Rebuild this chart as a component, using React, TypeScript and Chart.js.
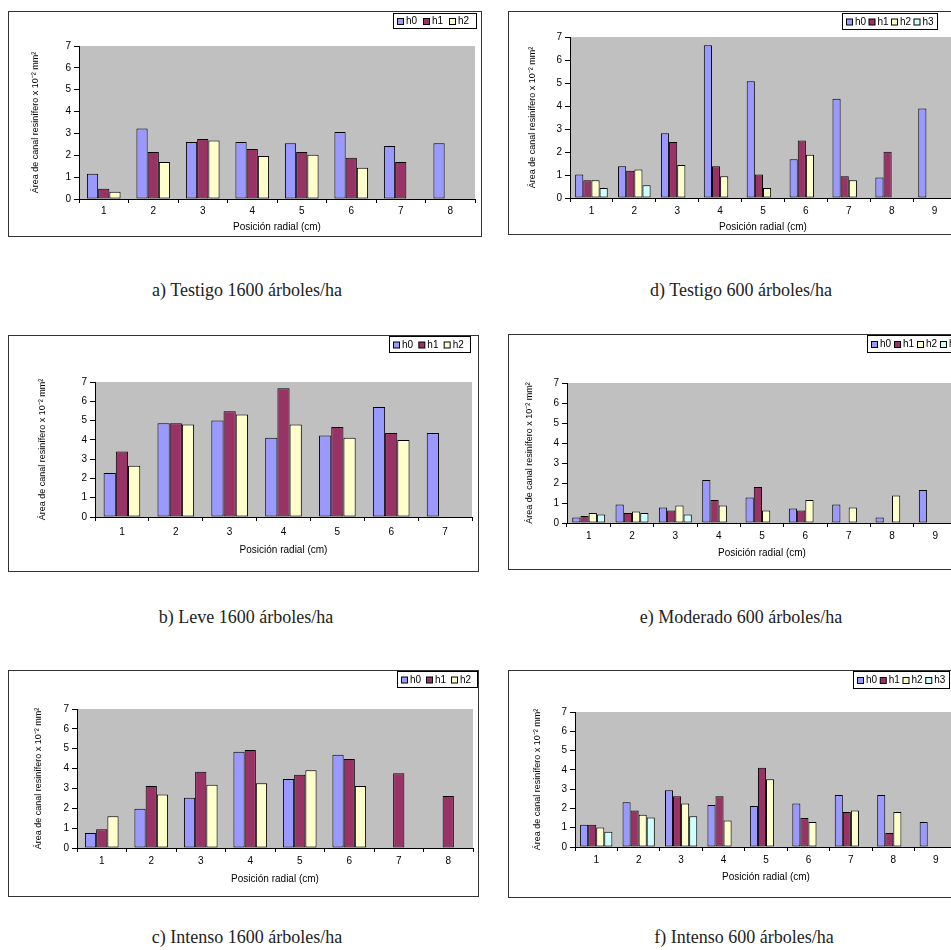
import React, { useEffect, useRef } from "react";
import { Chart, registerables } from "chart.js";

Chart.register(...registerables);

// ---------- data ----------
const SERIES_NAMES = ["h0", "h1", "h2", "h3"];
const SERIES_COLORS = ["#9999ff", "#993366", "#ffffcc", "#ccffff"];
const Y_TICKS_MAX = 7;
const Y_TITLE = "Área de canal resinífero x 10⁻² mm²";
const X_TITLE = "Posición radial (cm)";

// a) Testigo 1600 árboles/ha
const catsA = ["1", "2", "3", "4", "5", "6", "7", "8"];
const aH0 = [1.15, 3.22, 2.61, 2.61, 2.55, 3.06, 2.42, 2.55];
const aH1 = [0.47, 2.15, 2.74, 2.29, 2.15, 1.89, 1.69, null];
const aH2 = [0.33, 1.69, 2.68, 1.97, 2.03, 1.43, null, null];

// d) Testigo 600 árboles/ha
const catsD = ["1", "2", "3", "4", "5", "6", "7", "8", "9"];
const dH0 = [1.02, 1.38, 2.81, 6.64, 5.08, 1.69, 4.32, 0.89, 3.89];
const dH1 = [0.77, 1.18, 2.43, 1.38, 1.02, 2.5, 0.95, 2.01, null];
const dH2 = [0.77, 1.24, 1.44, 0.95, 0.44, 1.88, 0.77, null, null];
const dH3 = [0.44, 0.55, null, null, null, null, null, null, null];

// b) Leve 1600 árboles/ha
const catsB = ["1", "2", "3", "4", "5", "6", "7"];
const bH0 = [2.28, 4.86, 5.01, 4.11, 4.22, 5.7, 4.36];
const bH1 = [3.4, 4.86, 5.48, 6.67, 4.67, 4.36, null];
const bH2 = [2.66, 4.79, 5.31, 4.79, 4.11, 3.99, null];

// e) Moderado 600 árboles/ha
const catsE = ["1", "2", "3", "4", "5", "6", "7", "8", "9"];
const eH0 = [0.28, 0.93, 0.78, 2.15, 1.28, 0.72, 0.93, 0.28, 1.65];
const eH1 = [0.35, 0.5, 0.63, 1.15, 1.8, 0.63, null, null, null];
const eH2 = [0.5, 0.57, 0.87, 0.87, 0.63, 1.15, 0.78, 1.37, null];
const eH3 = [0.43, 0.5, 0.43, null, null, null, null, null, null];

// c) Intenso 1600 árboles/ha
const catsC = ["1", "2", "3", "4", "5", "6", "7", "8"];
const cH0 = [0.76, 1.98, 2.53, 4.85, 3.47, 4.7, null, null];
const cH1 = [0.94, 3.12, 3.84, 4.94, 3.69, 4.48, 3.76, 2.62];
const cH2 = [1.6, 2.69, 3.19, 3.26, 3.91, 3.12, null, null];

// f) Intenso 600 árboles/ha
const catsF = ["1", "2", "3", "4", "5", "6", "7", "8", "9"];
const fH0 = [1.15, 2.32, 2.94, 2.18, 2.12, 2.25, 2.7, 2.7, 1.29];
const fH1 = [1.15, 1.89, 2.63, 2.63, 4.11, 1.51, 1.81, 0.72, null];
const fH2 = [1.01, 1.67, 2.25, 1.38, 3.51, 1.29, 1.89, 1.81, null];
const fH3 = [0.79, 1.53, 1.6, null, null, null, null, null, null];

const captionA = "a) Testigo 1600 árboles/ha";
const captionB = "b) Leve 1600 árboles/ha";
const captionC = "c) Intenso 1600 árboles/ha";
const captionD = "d) Testigo 600 árboles/ha";
const captionE = "e) Moderado 600 árboles/ha";
const captionF = "f) Intenso 600 árboles/ha";

// ---------- layout ----------
type Panel = {
  labels: string[];
  series: (number | null)[][];
  box: { left: number; top: number; width: number; height: number };
  area: { L: number; R: number; T: number; B: number };
  yTitlePad: number;
  xTitlePad: number;
  xTickPad: number;
  legend: { x: number; y: number; w: number; h: number };
  catPct: number;
};

const PANELS: Panel[] = [
  {
    labels: catsA, series: [aH0, aH1, aH2],
    box: { left: 8, top: 11, width: 474, height: 226 },
    area: { L: 70, R: 466, T: 34, B: 187 },
    yTitlePad: 21.6, xTitlePad: 3, xTickPad: 2,
    legend: { x: 384, y: 1, w: 84, h: 16 }, catPct: 0.68,
  },
  {
    labels: catsD, series: [dH0, dH1, dH2, dH3],
    box: { left: 508, top: 11, width: 470, height: 224 },
    area: { L: 61, R: 447, T: 25, B: 186 },
    yTitlePad: 18.6, xTitlePad: 0.5, xTickPad: 3,
    legend: { x: 333, y: 1, w: 96, h: 17 }, catPct: 0.76,
  },
  {
    labels: catsB, series: [bH0, bH1, bH2],
    box: { left: 8, top: 335, width: 471, height: 237 },
    area: { L: 86, R: 463, T: 46, B: 181 },
    yTitlePad: 28.6, xTitlePad: 15, xTickPad: 5,
    legend: { x: 380, y: 0, w: 82, h: 17 }, catPct: 0.68,
  },
  {
    labels: catsE, series: [eH0, eH1, eH2, eH3],
    box: { left: 508, top: 334, width: 470, height: 236 },
    area: { L: 58, R: 448, T: 48, B: 188 },
    yTitlePad: 15.6, xTitlePad: 10, xTickPad: 3,
    legend: { x: 358, y: 0, w: 98, h: 18 }, catPct: 0.76,
  },
  {
    labels: catsC, series: [cH0, cH1, cH2],
    box: { left: 8, top: 670, width: 471, height: 227 },
    area: { L: 68, R: 464, T: 38, B: 177 },
    yTitlePad: 24.6, xTitlePad: 11, xTickPad: 3,
    legend: { x: 388, y: 0, w: 81, h: 17 }, catPct: 0.68,
  },
  {
    labels: catsF, series: [fH0, fH1, fH2, fH3],
    box: { left: 508, top: 670, width: 470, height: 228 },
    area: { L: 66, R: 448, T: 41, B: 176 },
    yTitlePad: 23.6, xTitlePad: 14, xTickPad: 3,
    legend: { x: 344, y: 0, w: 97, h: 18 }, catPct: 0.76,
  },
];

const CAPTIONS = [
  { text: captionA, cx: 247, cy: 290 },
  { text: captionD, cx: 741, cy: 290 },
  { text: captionB, cx: 246, cy: 617 },
  { text: captionE, cx: 741, cy: 617 },
  { text: captionC, cx: 247, cy: 937 },
  { text: captionF, cx: 744, cy: 937 },
];

const FONT = "'Liberation Sans', Arial, sans-serif";

function ChartPanel({ p }: { p: Panel }) {
  const ref = useRef<HTMLCanvasElement | null>(null);
  useEffect(() => {
    if (!ref.current) return;
    const W = p.box.width - 2;
    const H = p.box.height - 2;
    const bgPlugin = {
      id: "plotBg",
      beforeDraw(chart: any) {
        const { ctx, chartArea } = chart;
        ctx.save();
        ctx.fillStyle = "#ffffff";
        ctx.fillRect(0, 0, chart.width, chart.height);
        ctx.fillStyle = "#c0c0c0";
        ctx.fillRect(chartArea.left, chartArea.top, chartArea.right - chartArea.left, chartArea.bottom - chartArea.top);
        ctx.restore();
      },
    };
    const legendPlugin = {
      id: "boxLegend",
      afterDraw(chart: any) {
        const { ctx } = chart;
        const lg = p.legend;
        ctx.save();
        ctx.fillStyle = "#ffffff";
        ctx.fillRect(lg.x, lg.y, lg.w, lg.h);
        ctx.strokeStyle = "#000";
        ctx.lineWidth = 1;
        ctx.strokeRect(lg.x + 0.5, lg.y + 0.5, lg.w - 1, lg.h - 1);
        const n = chart.data.datasets.length;
        const slot = (lg.w - 6) / n;
        ctx.font = `10px ${FONT}`;
        ctx.textBaseline = "middle";
        const cy = lg.y + lg.h / 2;
        chart.data.datasets.forEach((ds: any, i: number) => {
          const x0 = lg.x + 4 + i * slot;
          ctx.fillStyle = ds.backgroundColor;
          ctx.fillRect(x0 + 0.5, cy - 3 + 0.5, 6, 6);
          ctx.strokeStyle = "#000";
          ctx.strokeRect(x0 + 0.5, cy - 3 + 0.5, 6, 6);
          ctx.fillStyle = "#000";
          ctx.fillText(ds.label, x0 + 9, cy + 0.5);
        });
        ctx.restore();
      },
    };
    const chart = new Chart(ref.current, {
      type: "bar",
      data: {
        labels: p.labels,
        datasets: p.series.map((data, i) => ({
          label: SERIES_NAMES[i],
          data,
          backgroundColor: SERIES_COLORS[i],
          borderColor: "#000",
          borderWidth: 1,
          borderSkipped: false,
          categoryPercentage: p.catPct,
          barPercentage: 1,
        })),
      },
      options: {
        responsive: false,
        animation: false,
        devicePixelRatio: 1,
        layout: { padding: { left: 0, top: p.area.T, right: W - p.area.R, bottom: 0 } },
        plugins: {
          legend: { display: false },
          tooltip: { enabled: false },
        },
        scales: {
          x: {
            grid: { display: true, drawOnChartArea: false, drawTicks: true, tickLength: 4, color: "#000", offset: true },
            border: { display: true, color: "#000", width: 1 },
            ticks: { color: "#000", font: { family: FONT, size: 10 }, padding: p.xTickPad, maxRotation: 0 },
            title: { display: true, text: X_TITLE, color: "#000", font: { family: FONT, size: 10 }, padding: { top: 0, bottom: p.xTitlePad } },
            afterFit: (scale: any) => { scale.height = H - p.area.B; },
          },
          y: {
            min: 0,
            max: Y_TICKS_MAX,
            grid: { display: true, drawOnChartArea: false, drawTicks: true, tickLength: 5, color: "#000" },
            border: { display: true, color: "#000", width: 1 },
            ticks: { stepSize: 1, color: "#000", font: { family: FONT, size: 10 }, padding: 3 },
            title: { display: true, text: Y_TITLE, color: "#000", font: { family: FONT, size: 9 }, padding: { top: p.yTitlePad, bottom: 0 } },
            afterFit: (scale: any) => { scale.width = p.area.L; },
          },
        },
      } as any,
      plugins: [bgPlugin, legendPlugin],
    });
    return () => chart.destroy();
  }, [p]);
  return (
    <div
      style={{
        position: "absolute",
        left: p.box.left,
        top: p.box.top,
        width: p.box.width - 2,
        height: p.box.height - 2,
        border: "1px solid #333",
        background: "#fff",
      }}
    >
      <canvas ref={ref} width={p.box.width - 2} height={p.box.height - 2} style={{ display: "block" }} />
    </div>
  );
}

export default function App() {
  return (
    <div
      style={{
        position: "fixed",
        left: 0,
        top: 0,
        width: 951,
        height: 950,
        overflow: "hidden",
        background: "#fff",
      }}
    >
      {PANELS.map((p, i) => (
        <ChartPanel key={i} p={p} />
      ))}
      {CAPTIONS.map((c, i) => (
        <div
          key={i}
          style={{
            position: "absolute",
            left: c.cx - 150,
            top: c.cy - 11,
            width: 300,
            height: 22,
            lineHeight: "22px",
            textAlign: "center",
            fontFamily: "'Liberation Serif', 'Times New Roman', serif",
            fontSize: 18,
            color: "#222",
            whiteSpace: "nowrap",
          }}
        >
          {c.text}
        </div>
      ))}
    </div>
  );
}
